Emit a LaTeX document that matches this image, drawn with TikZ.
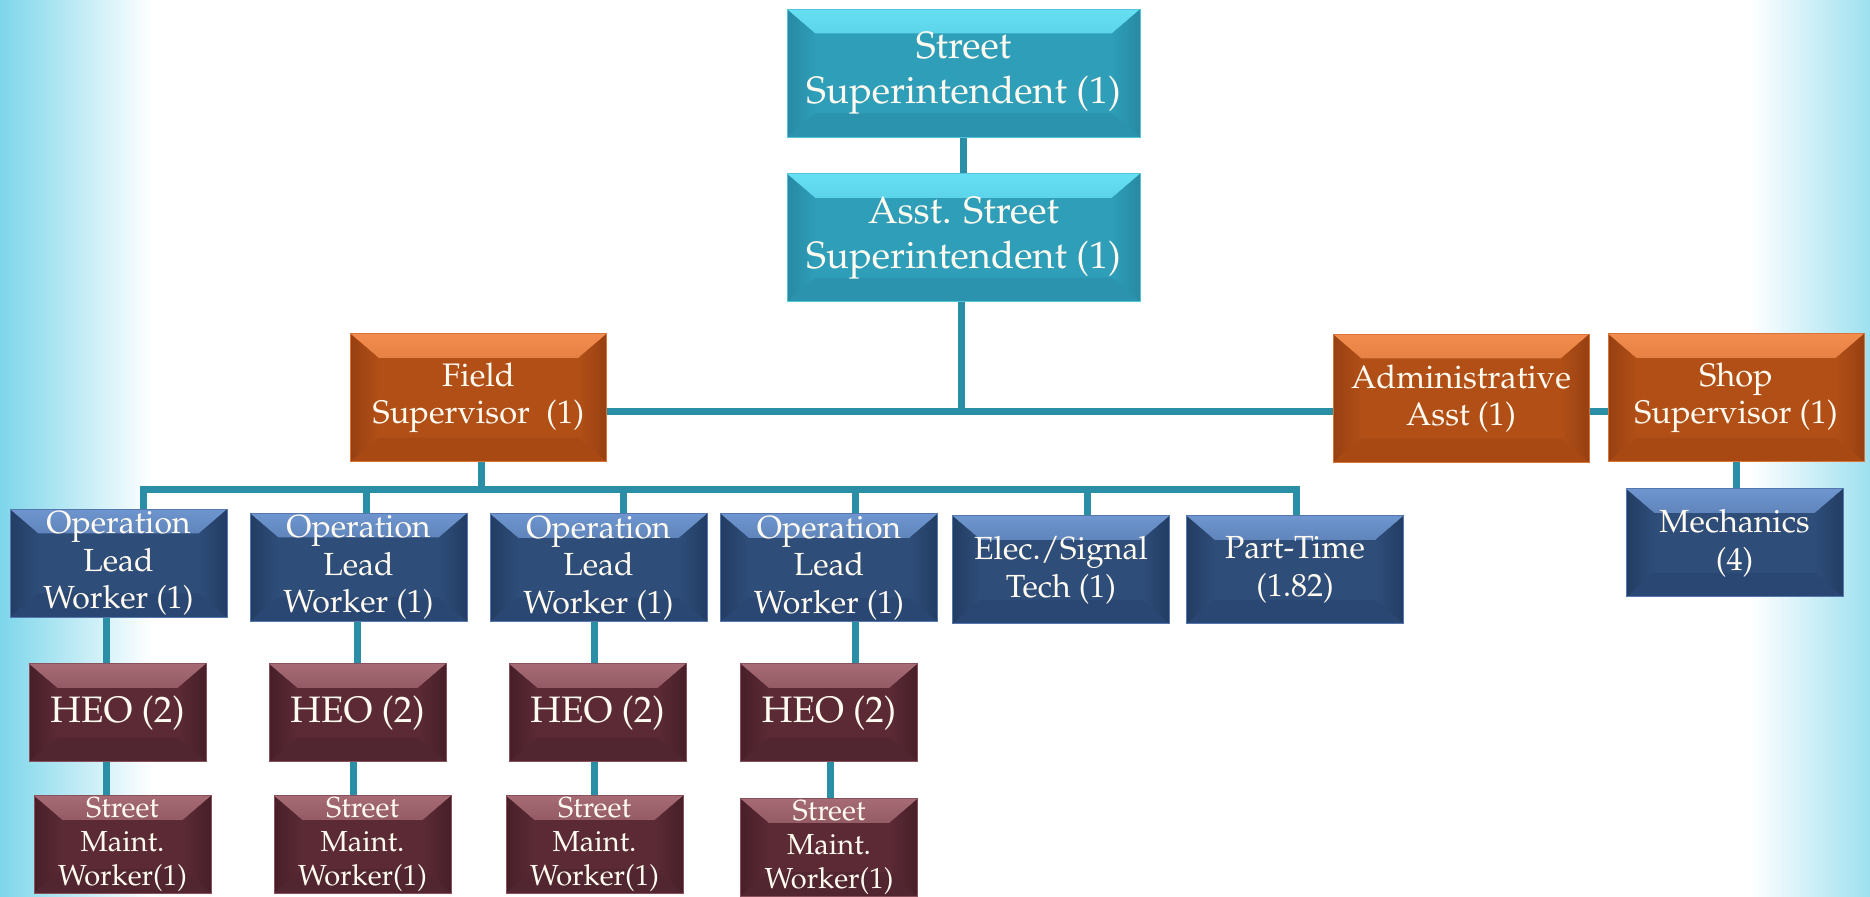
\documentclass[tikz,border=0pt]{standalone}
\usepackage[T1]{fontenc}
\renewcommand{\rmdefault}{ppl}
\usepackage{tikz}

\definecolor{tealbody}{HTML}{2E9EB9}
\definecolor{tealtop}{HTML}{66DFF3}
\definecolor{tealside}{HTML}{2889A2}
\definecolor{tealbot}{HTML}{2B93AD}
\definecolor{orgbody}{HTML}{B14F17}
\definecolor{orgtop}{HTML}{F28C4E}
\definecolor{orgside}{HTML}{974012}
\definecolor{orgbot}{HTML}{A84914}
\definecolor{navybody}{HTML}{2E4D79}
\definecolor{navytop}{HTML}{6E95CF}
\definecolor{navyside}{HTML}{233D63}
\definecolor{navybot}{HTML}{2A4672}
\definecolor{winebody}{HTML}{5B2A35}
\definecolor{winetop}{HTML}{A66B75}
\definecolor{wineside}{HTML}{471F28}
\definecolor{winebot}{HTML}{522630}
\definecolor{linkcol}{HTML}{2A8EA7}
\definecolor{boxtext}{HTML}{FFFBF0}
\definecolor{bgleft}{HTML}{7DD6EA}
\definecolor{bgright}{HTML}{9EE0EF}

\tikzset{
  bevel/.style n args={4}{fill=#1, draw=#2!60!#1, line width=0.5pt,
    path picture={
      \fill[top color=#2, bottom color=#1]
        (path picture bounding box.north west) -- (path picture bounding box.north east)
        -- ([xshift=-14pt,yshift=-12pt]path picture bounding box.north east)
        -- ([xshift=14pt,yshift=-12pt]path picture bounding box.north west) -- cycle;
      \fill[left color=#3, right color=#1]
        (path picture bounding box.north west) -- ([xshift=14pt,yshift=-12pt]path picture bounding box.north west)
        -- ([xshift=14pt,yshift=12pt]path picture bounding box.south west)
        -- (path picture bounding box.south west) -- cycle;
      \fill[left color=#1, right color=#3]
        (path picture bounding box.north east) -- ([xshift=-14pt,yshift=-12pt]path picture bounding box.north east)
        -- ([xshift=-14pt,yshift=12pt]path picture bounding box.south east)
        -- (path picture bounding box.south east) -- cycle;
      \fill[#4]
        (path picture bounding box.south west) -- ([xshift=14pt,yshift=12pt]path picture bounding box.south west)
        -- ([xshift=-14pt,yshift=12pt]path picture bounding box.south east)
        -- (path picture bounding box.south east) -- cycle;
    }},
  box/.style={inner sep=0pt, align=center, text=boxtext},
  tealbox/.style={box, bevel={tealbody}{tealtop}{tealside}{tealbot},
    minimum width=176.5pt, minimum height=64pt, font={\fontsize{19pt}{22.5pt}\selectfont}},
  orangebox/.style={box, bevel={orgbody}{orgtop}{orgside}{orgbot},
    minimum width=128pt, minimum height=64pt, font={\fontsize{16.3pt}{18.5pt}\selectfont}},
  navybox/.style={box, bevel={navybody}{navytop}{navyside}{navybot},
    minimum width=108.5pt, minimum height=54pt, font={\fontsize{16pt}{18.8pt}\selectfont}},
  heobox/.style={box, bevel={winebody}{winetop}{wineside}{winebot},
    minimum width=88.5pt, minimum height=49pt, font={\fontsize{18.4pt}{20pt}\selectfont}},
  smwbox/.style={box, bevel={winebody}{winetop}{wineside}{winebot},
    minimum width=88.5pt, minimum height=48.5pt, font={\fontsize{14.5pt}{17.2pt}\selectfont}},
  link/.style={line width=3.5pt, color=linkcol},
}

\begin{document}
\begin{tikzpicture}[x=0.5pt,y=-0.5pt]
\useasboundingbox (0,0) rectangle (1870,897);
\fill[left color=bgleft, right color=white] (0,0) rectangle (152,897);
\fill[left color=white, right color=bgright] (1750,0) rectangle (1870,897);

% top of the chart
\node[tealbox] (super) at (963.5,73.5) {Street\\Superintendent (1)};
\node[tealbox] (asst) at (963.5,238) {Asst. Street\\Superintendent (1)};

\node[orangebox] (field) at (478.5,398) {Field\\Supervisor\ \ (1)};
\node[orangebox] (admin) at (1461,398.5) {Administrative\\Asst (1)};
\node[orangebox] (shop) at (1736,398) {Shop\\Supervisor (1)};
\node[navybox] (mech) at (1734.5,543) {Mechanics\\(4)};

% crews
\node[navybox] (olw1) at (118.5,563.5) {Operation\\Lead\\Worker (1)};
\node[navybox] (olw2) at (358.5,567.5) {Operation\\Lead\\Worker (1)};
\node[navybox] (olw3) at (598.5,568) {Operation\\Lead\\Worker (1)};
\node[navybox] (olw4) at (829,568) {Operation\\Lead\\Worker (1)};
\node[navybox] (elec) at (1061,570) {Elec./Signal\\Tech (1)};
\node[navybox] (part) at (1295,570) {Part-Time\\(1.82)};

\node[heobox] (heo1) at (117.5,713) {HEO (2)};
\node[heobox] (heo2) at (357.5,713) {HEO (2)};
\node[heobox] (heo3) at (597.5,713) {HEO (2)};
\node[heobox] (heo4) at (829,713) {HEO (2)};

\node[smwbox] (smw1) at (122.5,844.5) {Street\\Maint.\\Worker(1)};
\node[smwbox] (smw2) at (362.5,844.5) {Street\\Maint.\\Worker(1)};
\node[smwbox] (smw3) at (594.5,844.5) {Street\\Maint.\\Worker(1)};
\node[smwbox] (smw4) at (829,847.5) {Street\\Maint.\\Worker(1)};

% connectors
\coordinate (busA) at (961,412);
\coordinate (busB) at (481,490);
\coordinate (d1) at (143,490);
\coordinate (d2) at (366,490);
\coordinate (d3) at (623,490);
\coordinate (d4) at (855,490);
\coordinate (d5) at (1087,490);
\coordinate (d6) at (1296,490);

\draw[link] (super.south) -- (asst.north);
\draw[link] ([xshift=-1.25pt]asst.south) -- ([xshift=-1.25pt]asst.south |- busA);
\draw[link] (field.east |- busA) -- (admin.west |- busA);
\draw[link] (admin.east |- busA) -- (shop.west |- busA);
\draw[link] (shop.south) -- (shop.south |- mech.north);

\draw[link] ([xshift=1.25pt]field.south) -- ([xshift=1.25pt]field.south |- busB);
\draw[link] (d1 |- olw1.north) -- (d1) -- (d6) -- (d6 |- part.north);
\foreach \d/\n in {d2/olw2,d3/olw3,d4/olw4,d5/elec}
  \draw[link] (\d) -- (\d |- \n.north);

\foreach \i/\a/\b in {1/-6.25/-5.75,2/-0.75/-2.25,3/-2.25/-1.75,4/13/0.5}{
  \draw[link] ([xshift=\a pt]olw\i.south) -- ([xshift=\a pt]olw\i.south |- heo\i.north);
  \draw[link] ([xshift=\b pt]heo\i.south) -- ([xshift=\b pt]heo\i.south |- smw\i.north);
}
\end{tikzpicture}
\end{document}
